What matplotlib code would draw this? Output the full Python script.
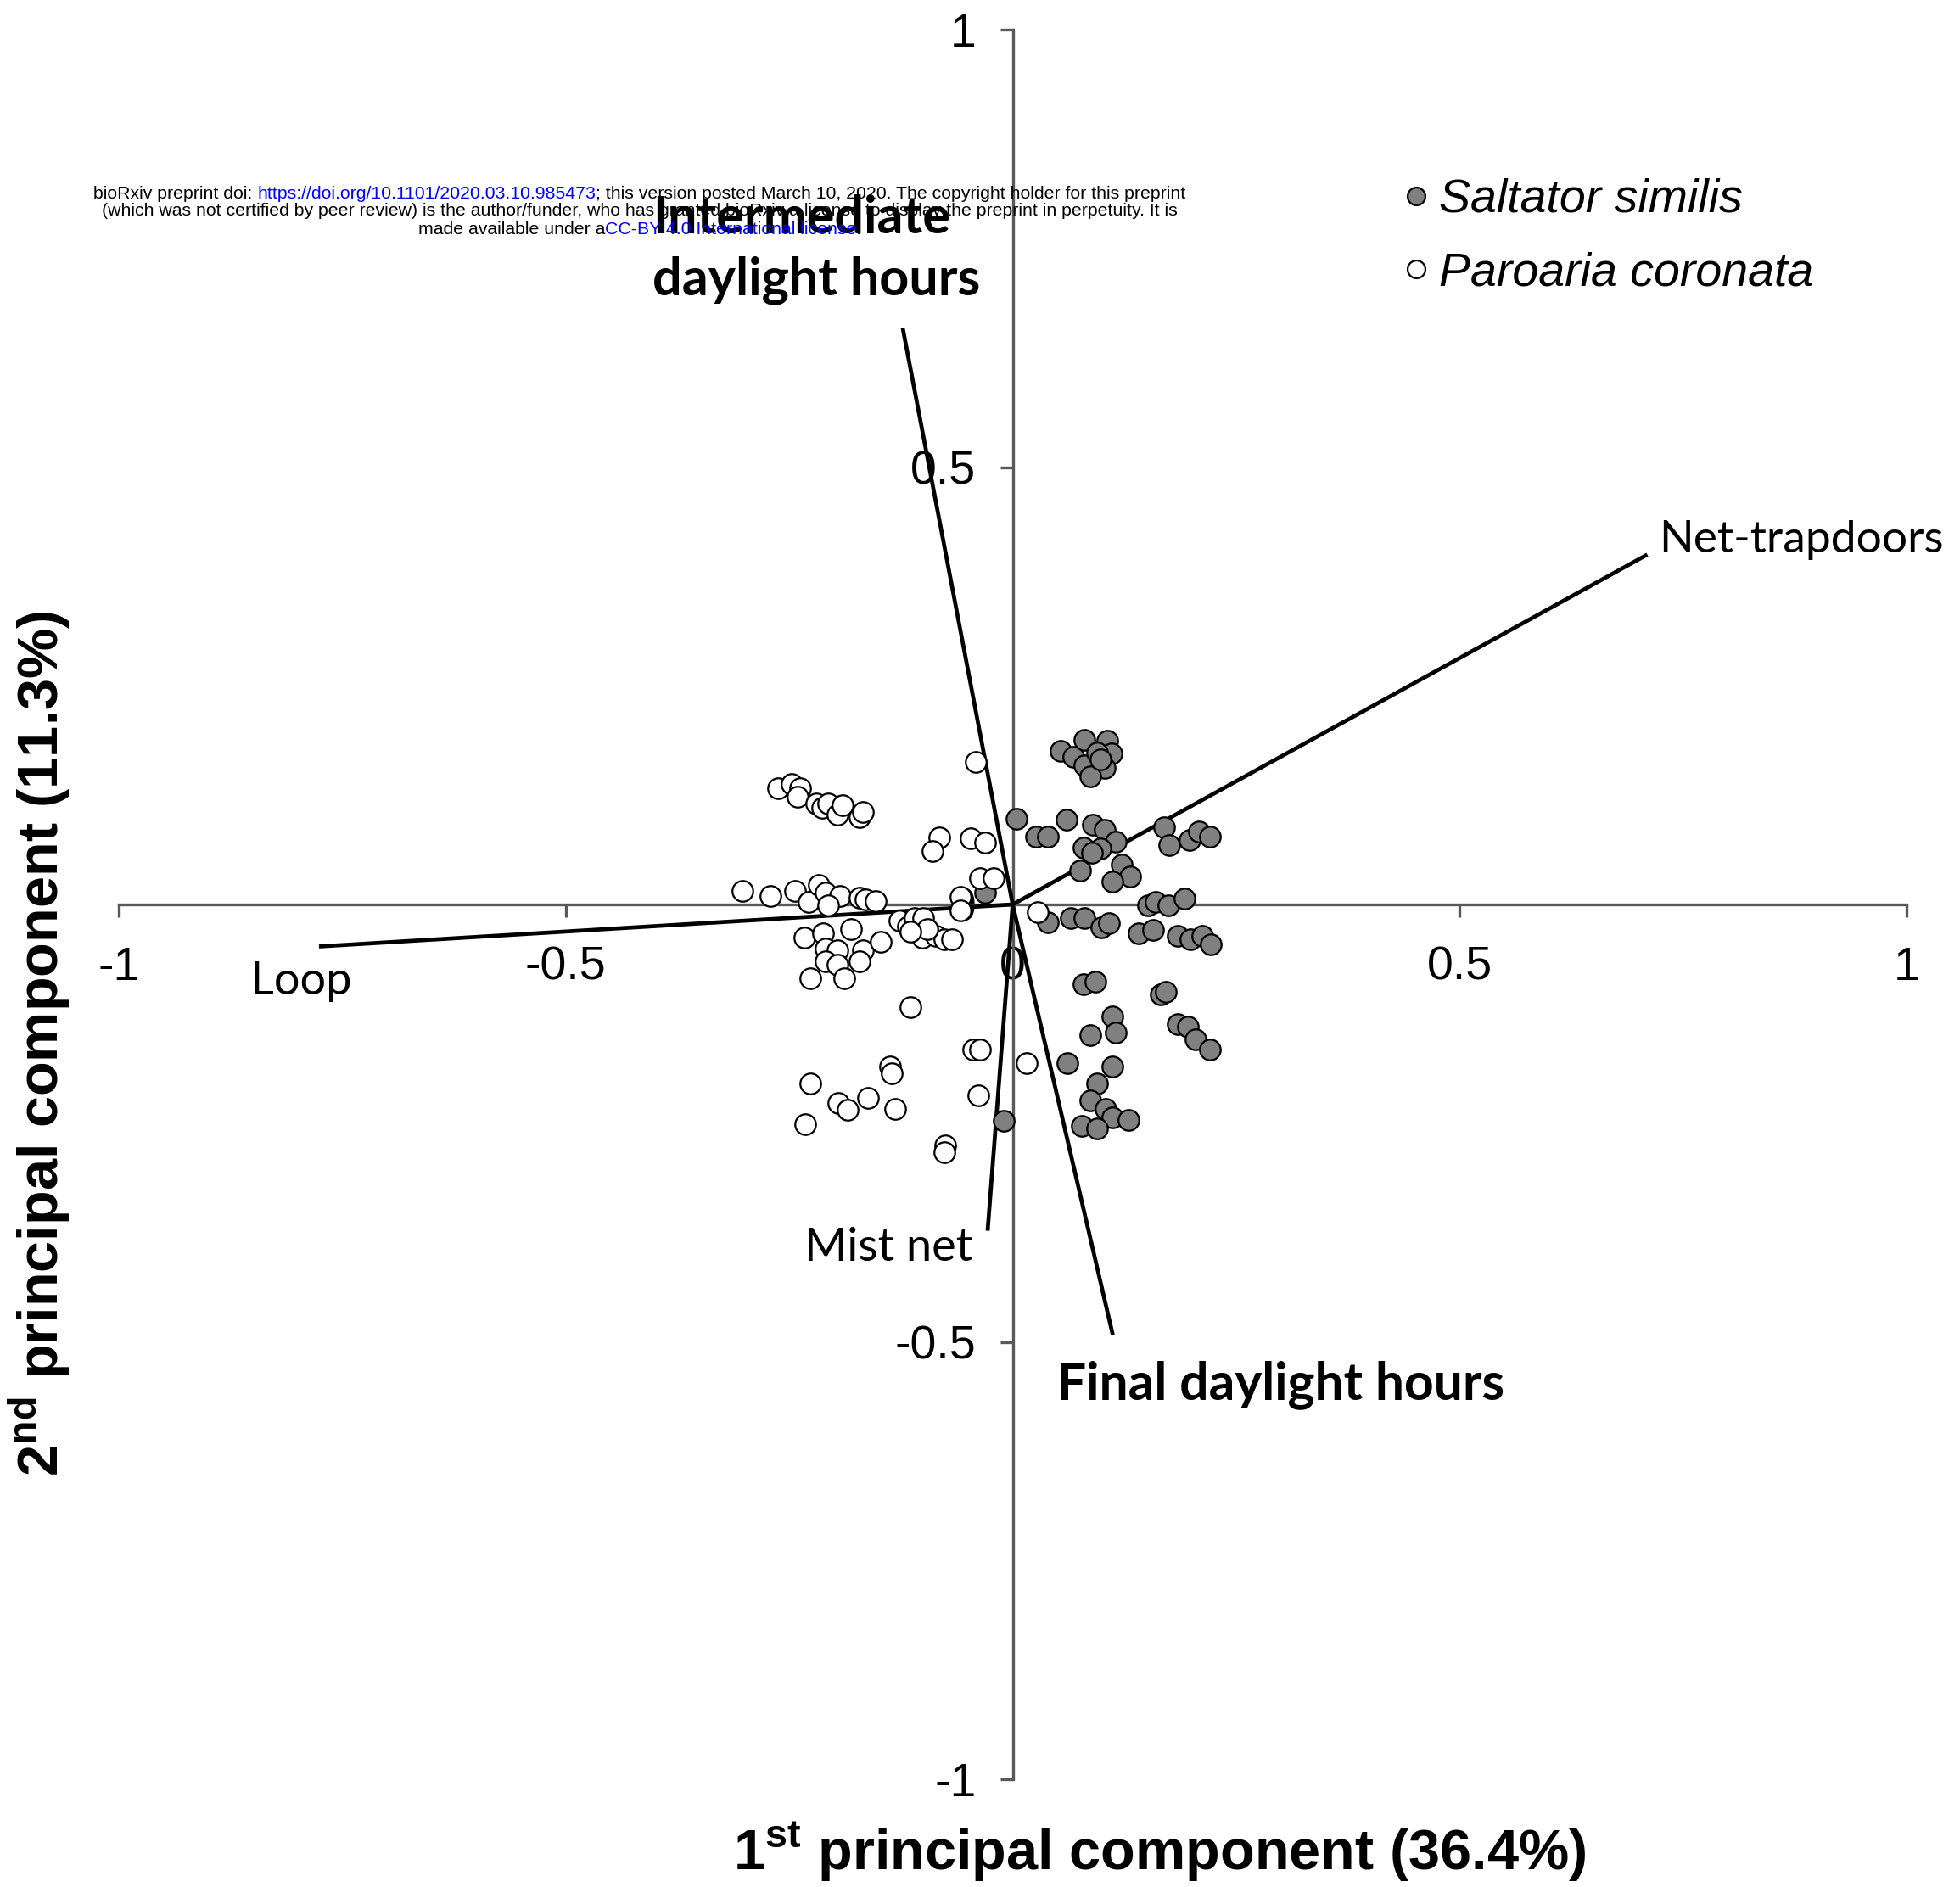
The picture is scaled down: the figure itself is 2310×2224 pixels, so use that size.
import matplotlib
matplotlib.use("Agg")
import matplotlib.pyplot as plt
from matplotlib.lines import Line2D

plt.rcParams['font.family'] = ['Liberation Sans', 'DejaVu Sans']
plt.rcParams['mathtext.fontset'] = 'custom'
plt.rcParams['mathtext.rm'] = 'Liberation Sans'
plt.rcParams['mathtext.bf'] = 'Liberation Sans:bold'

# PCA scores, Saltator similis (grey)
saltator_x = [0.054, 0.068, 0.080, 0.106, 0.111, 0.080, 0.103, 0.087, 0.094, 0.098,
              0.004, 0.026, 0.039, 0.060, 0.090, 0.103, 0.115, 0.098, 0.079, 0.089,
              0.075, 0.122, 0.131, 0.112, 0.169, 0.175, 0.198, 0.208, 0.221, 0.151,
              0.160, 0.174, 0.192, 0.039, 0.065, 0.080, 0.099, 0.108, 0.141, 0.157,
              0.185, 0.199, 0.212, 0.222, 0.079, 0.093, 0.166, 0.171, 0.185, 0.196,
              0.205, 0.221, 0.112, 0.115, 0.087, 0.061, 0.112, 0.094, 0.087, 0.104,
              0.112, 0.130, 0.077, 0.094, -0.010, -0.031]
saltator_y = [0.176, 0.169, 0.188, 0.187, 0.173, 0.159, 0.156, 0.146, 0.174, 0.166,
              0.098, 0.078, 0.078, 0.097, 0.091, 0.085, 0.072, 0.064, 0.065, 0.059,
              0.039, 0.046, 0.032, 0.026, 0.088, 0.068, 0.074, 0.083, 0.078, -0.001,
              0.003, -0.001, 0.007, -0.020, -0.016, -0.016, -0.026, -0.021, -0.033, -0.029,
              -0.036, -0.040, -0.036, -0.046, -0.091, -0.088, -0.103, -0.100, -0.137, -0.140,
              -0.154, -0.166, -0.128, -0.146, -0.149, -0.181, -0.185, -0.205, -0.224, -0.234,
              -0.243, -0.246, -0.253, -0.256, -0.247, 0.014]

# PCA scores, Paroaria coronata (white)
paroaria_x = [-0.041, -0.262, -0.247, -0.238, -0.241, -0.220, -0.213, -0.206, -0.196, -0.190,
              -0.171, -0.168, -0.082, -0.090, -0.047, -0.031, -0.037, -0.021, -0.058, -0.058,
              -0.302, -0.271, -0.243, -0.228, -0.217, -0.209, -0.193, -0.206, -0.171, -0.165,
              -0.153, -0.127, -0.117, -0.110, -0.100, -0.101, -0.086, -0.076, -0.095, -0.114,
              -0.233, -0.212, -0.181, -0.209, -0.196, -0.209, -0.196, -0.168, -0.171, -0.148,
              -0.226, -0.188, -0.114, -0.044, -0.037, 0.016, -0.137, -0.135, -0.226, -0.038,
              -0.195, -0.185, -0.162, -0.131, -0.232, -0.075, -0.076, 0.028, -0.068]
paroaria_y = [0.163, 0.133, 0.138, 0.133, 0.123, 0.115, 0.111, 0.115, 0.103, 0.113,
              0.100, 0.106, 0.077, 0.061, 0.076, 0.071, 0.030, 0.030, 0.009, -0.007,
              0.016, 0.010, 0.016, 0.003, 0.022, 0.014, 0.010, -0.001, 0.008, 0.006,
              0.004, -0.018, -0.025, -0.016, -0.016, -0.038, -0.036, -0.040, -0.028, -0.031,
              -0.038, -0.033, -0.028, -0.050, -0.052, -0.065, -0.069, -0.052, -0.065, -0.043,
              -0.084, -0.084, -0.117, -0.166, -0.166, -0.181, -0.185, -0.193, -0.205, -0.218,
              -0.227, -0.235, -0.221, -0.234, -0.251, -0.275, -0.283, -0.009, -0.040]

# variable loadings (arrows)
loading_names = ['Loop', 'Net-trapdoors', 'Intermediate\ndaylight hours', 'Mist net', 'Final daylight hours']
loading_x = [-0.776, 0.710, -0.123, -0.028, 0.112]
loading_y = [-0.048, 0.400, 0.659, -0.373, -0.492]

ticks = [-1, -0.5, 0, 0.5, 1]
tick_labels = ['-1', '-0.5', '0', '0.5', '1']

W, H = 2310, 2224
fig = plt.figure(figsize=(W / 100, H / 100), dpi=100)
ax = fig.add_axes([140 / W, 127 / H, 2107 / W, 2062 / H])
ax.set_xlim(-1, 1)
ax.set_ylim(-1, 1)

axis_grey = '#595959'
for side in ['top', 'right']:
    ax.spines[side].set_visible(False)
for side in ['left', 'bottom']:
    ax.spines[side].set_position(('data', 0))
    ax.spines[side].set_color(axis_grey)
    ax.spines[side].set_linewidth(2.4)

ax.set_xticks(ticks)
ax.set_xticklabels(tick_labels)
ax.set_yticks(ticks)
ax.set_yticklabels(tick_labels)
ax.tick_params(axis='both', direction='out', length=11, width=2.4, color=axis_grey,
               labelsize=40)
ax.tick_params(axis='x', pad=24)
ax.tick_params(axis='y', pad=20)

# loading vectors
for lx, ly in zip(loading_x, loading_y):
    ax.plot([0, lx], [0, ly], color='black', lw=3.4, zorder=3, solid_capstyle='butt')

ax.scatter(saltator_x, saltator_y, s=310, c='#808080', edgecolors='black', linewidths=1.6, zorder=4)
ax.scatter(paroaria_x, paroaria_y, s=310, c='white', edgecolors='black', linewidths=1.6, zorder=5)

# vector labels
lab = dict(family=['Lato', 'DejaVu Sans'], color='black', zorder=6)
ax.text(-0.853, -0.088, loading_names[0], fontsize=39, ha='left', va='center', **lab)
ax.text(0.723, 0.417, loading_names[1], fontsize=38.4, ha='left', va='center', **lab)
ax.text(-0.403, 0.749, loading_names[2], fontsize=44, fontweight='bold', ha='left', va='center',
        linespacing=1.36, **lab)
ax.text(-0.045, -0.392, loading_names[3], fontsize=39, ha='right', va='center', **lab)
ax.text(0.050, -0.549, loading_names[4], fontsize=43.6, fontweight='bold', ha='left', va='center', **lab)

# axis titles
fig.text(1367 / W, 41 / H, r'1$^{\mathbf{st}}$ principal component (36.4%)', fontsize=48,
         fontweight='bold', ha='center', va='center')
fig.text(47 / W, 994 / H, r'2$^{\mathbf{nd}}$ principal component (11.3%)', fontsize=48,
         fontweight='bold', ha='center', va='center', rotation=90)

# legend
handles = [Line2D([], [], marker='o', ls='none', markersize=15, markerfacecolor='#808080',
                  markeredgecolor='black', markeredgewidth=1.6),
           Line2D([], [], marker='o', ls='none', markersize=15, markerfacecolor='white',
                  markeredgecolor='black', markeredgewidth=1.6)]
fig.legend(handles, ['Saltator similis', 'Paroaria coronata'], loc='upper left',
           bbox_to_anchor=(1652 / W, 2014 / H), frameon=False,
           prop=dict(style='italic', size=40), handlelength=0.6, handletextpad=0.2,
           labelspacing=0.62, borderpad=0, borderaxespad=0)

# preprint stamp
header = [
    [("bioRxiv preprint doi:", 'black'), ("https://doi.org/10.1101/2020.03.10.985473", 'blue'),
     ("; this version posted March 10, 2020. The copyright holder for this preprint", 'black')],
    [("(which was not certified by peer review) is the author/funder, who has granted bioRxiv a "
      "license to display the preprint in perpetuity. It is", 'black')],
    [("made available under a", 'black'), ("CC-BY 4.0 International license", 'blue'), (".", 'black')],
]
gaps = [[1, 0, 0], [0], [0, 0, 0]]
header_y = [228, 249, 270]
hsize = 15.3
renderer = fig.canvas.get_renderer()
probe1 = fig.text(0, 0, 'x x', fontsize=hsize)
probe2 = fig.text(0, 0, 'xx', fontsize=hsize)
space_w = probe1.get_window_extent(renderer).width - probe2.get_window_extent(renderer).width
probe1.remove()
probe2.remove()
for line, gap, yy in zip(header, gaps, header_y):
    texts = [fig.text(0, 1 - yy / H, s, color=c, fontsize=hsize, va='center', ha='left', zorder=10)
             for s, c in line]
    widths = [t.get_window_extent(renderer).width for t in texts]
    total = sum(widths) + sum(gap) * space_w
    x = 754 - total / 2
    for t, w, g in zip(texts, widths, gap):
        t.set_x(x / W)
        x += w + g * space_w

fig.savefig('out.png', dpi=100)
